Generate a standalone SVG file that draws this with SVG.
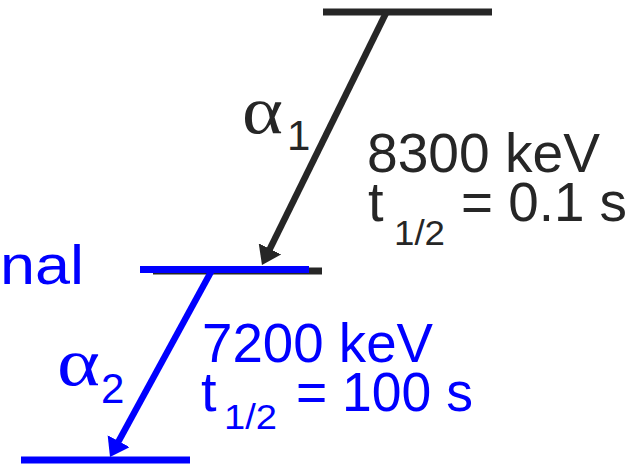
<svg xmlns="http://www.w3.org/2000/svg" width="641" height="466" viewBox="0 0 641 466">
<defs>
<style>
.lvl{fill:none;stroke-width:7;stroke-linecap:butt}
.dk{stroke:#262626}
.bl{stroke:#0000ff}
.arr{fill:none;stroke-width:6.5}
.t{font-family:"Liberation Sans",Arial,sans-serif;font-size:56px}
.sub{font-family:"Liberation Sans",Arial,sans-serif;font-size:35px}
.idx{font-family:"Liberation Sans",Arial,sans-serif;font-size:42px}
.g{font-family:"Liberation Serif","Times New Roman",serif;font-size:68px}
.tk{fill:#262626}
.tb{fill:#0000ff}
</style>
<marker id="hd" markerUnits="userSpaceOnUse" viewBox="0 0 18 25" markerWidth="18" markerHeight="25" refX="8" refY="12.5" orient="auto"><path d="M0,0 L18,12.5 L0,25 z" fill="#262626"/></marker>
<marker id="hb" markerUnits="userSpaceOnUse" viewBox="0 0 18 25" markerWidth="18" markerHeight="25" refX="8" refY="12.5" orient="auto"><path d="M0,0 L18,12.5 L0,25 z" fill="#0000ff"/></marker>
</defs>
<g id="level-8300">
<line class="lvl dk" x1="323" y1="12" x2="492" y2="12"/>
<text class="t tk" x="367" y="172" textLength="233" lengthAdjust="spacingAndGlyphs">8300 keV</text>
<text class="t tk" y="221"><tspan x="368">t</tspan><tspan class="sub" x="394" y="245" textLength="51" lengthAdjust="spacingAndGlyphs">1/2</tspan><tspan x="461" y="221" textLength="166" lengthAdjust="spacingAndGlyphs">= 0.1 s</tspan></text>
</g>
<g id="level-7200">
<line class="lvl dk" x1="153" y1="271" x2="322" y2="271"/>
<line class="lvl bl" x1="140" y1="269.5" x2="309" y2="269.5"/>
<text class="t tb" x="0" y="284" textLength="84" lengthAdjust="spacingAndGlyphs">nal</text>
<text class="t tb" x="202" y="362" textLength="231" lengthAdjust="spacingAndGlyphs">7200 keV</text>
<text class="t tb" y="411"><tspan x="201">t</tspan><tspan class="sub" x="224" y="429" textLength="53" lengthAdjust="spacingAndGlyphs">1/2</tspan><tspan x="296" y="411" textLength="177" lengthAdjust="spacingAndGlyphs">= 100 s</tspan></text>
</g>
<g id="level-ground">
<line class="lvl bl" x1="21" y1="460" x2="190" y2="460"/>
</g>
<g id="connectors">
<line class="arr dk" x1="386" y1="13" x2="266.4" y2="256" marker-end="url(#hd)"/>
<line class="arr bl" x1="212" y1="270" x2="114.8" y2="448.2" marker-end="url(#hb)"/>
<text class="g tk" x="242" y="133" textLength="41" lengthAdjust="spacingAndGlyphs">α</text>
<text class="idx tk" x="287" y="150">1</text>
<text class="g tb" x="57" y="385" textLength="43" lengthAdjust="spacingAndGlyphs">α</text>
<text class="idx tb" x="101" y="403">2</text>
</g>
</svg>
